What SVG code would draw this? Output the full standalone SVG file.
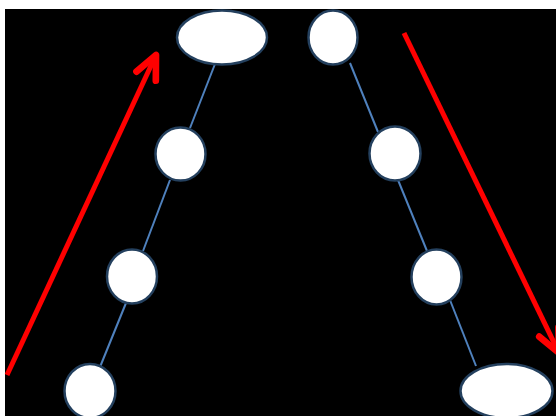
<svg xmlns="http://www.w3.org/2000/svg" width="556" height="416" viewBox="0 0 556 416">
<style>
.node{fill:#ffffff;stroke:#24405e;stroke-width:2.5}
.link{stroke:#4f81bd;stroke-width:2;fill:none}
.arrow{stroke:#ff0000;stroke-width:5;fill:none;stroke-linecap:butt}
</style>
<defs>
<marker id="vhead" markerUnits="userSpaceOnUse" orient="auto" refX="0" refY="0" markerWidth="40" markerHeight="40" viewBox="-25 -15 30 30" overflow="visible">
<path d="M -17.5 -8 L 0 0 L -17.5 8" stroke="#ff0000" stroke-width="5" fill="none" stroke-linejoin="round" stroke-linecap="round"/>
</marker>
</defs>
<rect x="0" y="0" width="556" height="416" fill="#ffffff"/>
<rect x="5" y="9" width="551" height="407" fill="#000000"/>
<g id="connectors">
<line class="link" x1="215" y1="64" x2="190" y2="128"/>
<line class="link" x1="170" y1="180" x2="143" y2="251"/>
<line class="link" x1="126" y1="303" x2="100" y2="367"/>
<line class="link" x1="350" y1="63" x2="378" y2="132"/>
<line class="link" x1="398" y1="180" x2="427" y2="251"/>
<line class="link" x1="448" y1="295" x2="476" y2="366"/>
<line class="arrow" x1="7" y1="375" x2="156" y2="55" marker-end="url(#vhead)"/>
<line class="arrow" x1="404" y1="33" x2="559" y2="353" marker-end="url(#vhead)"/>
</g>
<g id="n1"><ellipse class="node" cx="222" cy="37.5" rx="45" ry="27"/></g>
<g id="n2"><ellipse class="node" cx="180.5" cy="154" rx="25" ry="26.5"/></g>
<g id="n3"><ellipse class="node" cx="132" cy="276.5" rx="25" ry="27"/></g>
<g id="n4"><ellipse class="node" cx="90" cy="391" rx="25.5" ry="27"/></g>
<g id="n5"><ellipse class="node" cx="333" cy="37.5" rx="24.5" ry="27"/></g>
<g id="n6"><ellipse class="node" cx="395" cy="153.5" rx="25.5" ry="27"/></g>
<g id="n7"><ellipse class="node" cx="436.5" cy="277" rx="25" ry="27.5"/></g>
<g id="n8"><ellipse class="node" cx="506.5" cy="391" rx="46" ry="27"/></g>
</svg>
